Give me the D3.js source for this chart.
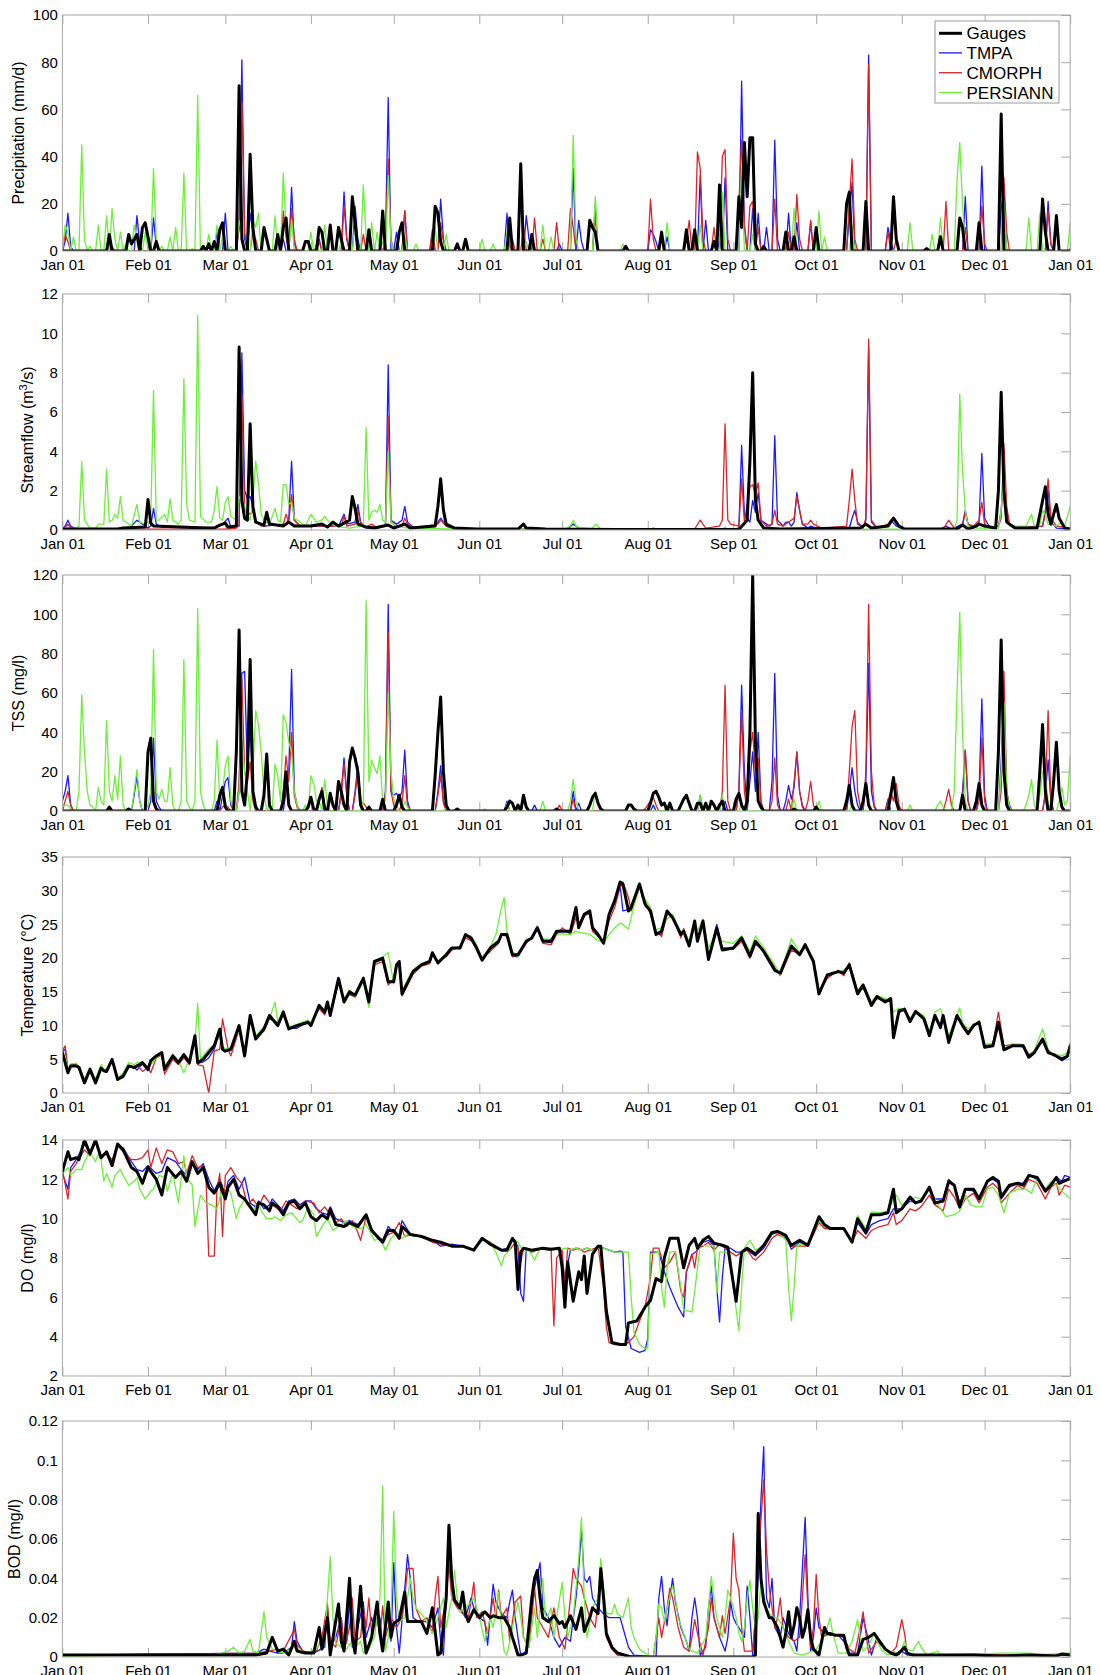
<!DOCTYPE html>
<html><head><meta charset="utf-8">
<script src="https://cdn.jsdelivr.net/npm/d3@7"></script>
<style>
body{margin:0;background:#fff}
svg{display:block}
text{font-family:"Liberation Sans",Arial,Helvetica,sans-serif;fill:#000}
</style>
</head><body>
<svg id="chart" width="1100" height="1675"></svg>
<script>
// ---------- series meta ----------
const seriesNames = ["Gauges", "TMPA", "CMORPH", "PERSIANN"];
const seriesColors = ["#000000", "#1a1aff", "#dc2428", "#6cf03a"];

// ---------- tick labels ----------
const precipTicks = [0, 20, 40, 60, 80, 100];
const flowTicks = [0, 2, 4, 6, 8, 10, 12];
const tssTicks = [0, 20, 40, 60, 80, 100, 120];
const tempTicks = [0, 5, 10, 15, 20, 25, 30, 35];
const doTicks = [2, 4, 6, 8, 10, 12, 14];
const bodTicks = [0, 0.02, 0.04, 0.06, 0.08, 0.1, 0.12];
const bodTickLabels = ["0", "0.02", "0.04", "0.06", "0.08", "0.1", "0.12"];

// ---------- Precipitation (mm/d): rain days [dayOfYear, value]; other days read as 0 ----------
const precipGauges = [[17,7],[24,7],[25,3],[26,5],[27,7],[29,10],[30,12],[31,6],[34,4],[51,2],[53,3],[55,4],[57,9],[58,12],[64,70],[65,5],[68,41],[69,10],[73,10],[74,5],[78,7],[80,10],[81,14],[88,4],[89,4],[93,10],[94,8],[97,11],[100,10],[101,5],[105,23],[106,12],[111,9],[116,17],[122,8],[123,12],[135,19],[136,16],[137,4],[143,3],[146,5],[162,14],[166,37],[170,7],[191,13],[192,10],[193,8],[204,2],[217,8],[226,9],[229,9],[236,4],[238,28],[245,23],[246,10],[247,46],[248,23],[249,48],[250,48],[251,3],[254,2],[262,8],[265,6],[273,10],[284,20],[285,25],[291,21],[301,23],[302,5],[313,1],[318,6],[325,14],[326,10],[332,12],[340,58],[355,22],[356,8],[360,15]];
const precipTMPA = [[1,4],[2,16],[3,2],[27,15],[28,3],[33,14],[34,2],[56,8],[59,16],[64,10],[65,81],[66,5],[68,16],[69,8],[80,5],[83,27],[84,3],[93,5],[97,8],[102,25],[103,5],[106,19],[107,5],[117,5],[118,65],[121,8],[124,17],[134,8],[137,22],[138,5],[161,16],[168,15],[169,5],[180,3],[185,35],[187,13],[188,4],[193,20],[213,9],[214,7],[215,4],[219,6],[231,32],[233,13],[238,4],[240,31],[246,72],[247,10],[250,18],[252,16],[255,10],[258,47],[259,5],[263,16],[266,12],[271,12],[285,15],[286,29],[292,83],[299,10],[300,4],[318,4],[327,23],[333,36],[340,18],[341,25],[357,21],[358,3]];
const precipCMORPH = [[1,7],[2,4],[18,2],[64,10],[65,63],[66,8],[69,8],[70,5],[80,17],[81,6],[83,18],[84,5],[93,4],[102,19],[103,5],[109,7],[117,4],[118,39],[119,5],[124,17],[134,9],[137,12],[138,4],[163,5],[167,10],[171,14],[174,5],[179,12],[184,18],[185,10],[193,15],[213,22],[214,5],[226,4],[227,13],[230,42],[231,35],[232,5],[236,10],[239,40],[240,43],[241,5],[245,20],[246,47],[247,12],[249,19],[250,21],[252,10],[258,22],[263,8],[266,24],[267,5],[271,13],[285,20],[286,39],[287,5],[292,79],[299,8],[302,5],[320,21],[327,10],[333,19],[334,3],[341,31],[342,8],[357,17],[358,3],[365,1]];
const precipPERSIANN = [[1,11],[2,8],[4,6],[7,45],[8,5],[10,2],[13,11],[16,15],[18,18],[19,5],[21,8],[23,3],[26,11],[27,5],[30,8],[33,35],[34,5],[36,2],[39,6],[41,10],[44,33],[47,1],[49,66],[53,7],[56,11],[58,6],[61,2],[64,13],[65,8],[69,13],[70,10],[71,16],[77,15],[80,33],[81,10],[83,13],[90,8],[92,3],[95,11],[101,4],[106,12],[109,28],[110,6],[112,12],[114,8],[116,4],[118,32],[119,4],[124,7],[128,3],[135,10],[139,7],[143,3],[152,5],[156,3],[161,8],[168,4],[174,11],[177,6],[185,49],[186,5],[193,23],[203,3],[219,12],[231,11],[239,25],[246,35],[250,7],[265,18],[274,17],[276,6],[286,11],[307,12],[315,7],[318,14],[324,30],[325,46],[326,20],[341,21],[350,14],[354,16],[365,12]];

// ---------- Streamflow (m3/s): [dayOfYear, value] points ----------
const flowGauges = [[0,0.05],[20,0.05],[22,0.1],[30,0.15],[31,1.55],[32,0.35],[33,0.2],[50,0.12],[55,0.1],[57,0.25],[59,0.35],[60,0.15],[63,0.2],[64,9.3],[65,1.5],[66,0.6],[67,0.5],[68,5.4],[69,1.2],[70,0.4],[73,0.25],[74,0.9],[75,0.3],[80,0.2],[82,0.4],[84,0.2],[90,0.2],[94,0.3],[96,0.15],[98,0.4],[100,0.2],[104,0.5],[105,1.7],[106,1.1],[107,0.3],[110,0.15],[113,0.1],[118,0.25],[120,0.1],[124,0.3],[126,0.1],[135,0.2],[136,1.2],[137,2.6],[138,1.0],[139,0.3],[142,0.1],[150,0.05],[165,0.05],[167,0.3],[168,0.1],[175,0.05],[200,0.02],[245,0.02],[248,0.5],[249,3.5],[250,8.0],[251,1.5],[252,0.5],[254,0.1],[260,0.05],[289,0.1],[291,0.3],[293,0.1],[299,0.2],[301,0.6],[303,0.2],[305,0.05],[324,0.05],[326,0.25],[328,0.05],[331,0.2],[332,0.3],[334,0.2],[338,0.1],[339,2.0],[340,7.0],[341,2.0],[342,0.4],[345,0.1],[353,0.1],[355,1.5],[356,2.2],[357,0.8],[358,0.3],[360,1.3],[361,0.6],[363,0.1],[365,0.05]];
const flowTMPA = [[0,0.05],[1,0.2],[2,0.5],[3,0.2],[5,0.05],[24,0.05],[27,0.5],[29,0.3],[31,0.1],[32,0.2],[33,1.1],[34,0.3],[36,0.15],[55,0.1],[58,0.3],[60,0.6],[61,0.15],[64,0.2],[65,9.0],[66,2.0],[67,1.6],[68,1.7],[69,1.2],[70,0.4],[73,0.2],[81,0.3],[82,0.6],[83,3.5],[84,0.5],[86,0.2],[100,0.2],[102,0.8],[103,0.3],[106,0.4],[107,1.3],[108,0.4],[110,0.1],[117,0.2],[118,8.4],[119,0.5],[121,0.3],[123,0.5],[124,1.2],[125,0.4],[127,0.15],[135,0.2],[137,0.6],[139,0.2],[142,0.05],[183,0.05],[185,0.3],[187,0.1],[200,0.02],[238,0.03],[240,0.1],[242,0.03],[245,0.1],[246,4.3],[247,0.8],[249,0.4],[250,1.5],[251,0.9],[252,1.9],[253,0.5],[256,0.2],[257,0.3],[258,4.8],[259,0.5],[261,0.2],[262,0.4],[263,0.4],[264,0.2],[265,0.4],[266,1.9],[267,1.0],[268,0.3],[270,0.1],[271,0.2],[273,0.1],[285,0.1],[286,0.6],[287,1.0],[288,0.4],[290,0.1],[291,0.5],[292,9.3],[293,0.4],[295,0.1],[299,0.2],[300,0.5],[302,0.2],[305,0.05],[318,0.05],[320,0.2],[322,0.05],[326,0.3],[327,1.0],[328,0.3],[330,0.1],[332,0.4],[333,3.9],[334,0.6],[336,0.1],[339,0.2],[340,1.0],[341,3.0],[342,1.0],[343,0.3],[346,0.1],[355,0.2],[356,1.0],[357,2.0],[358,0.4],[360,0.1],[365,0.05]];
const flowCMORPH = [[0,0.05],[1,0.15],[2,0.3],[3,0.1],[5,0.03],[60,0.05],[63,0.1],[64,0.3],[65,6.8],[66,1.0],[68,0.8],[69,1.0],[70,0.5],[72,0.2],[80,0.3],[81,0.8],[82,0.4],[83,1.8],[84,0.5],[86,0.2],[101,0.2],[102,0.7],[103,0.2],[106,0.3],[107,1.0],[108,0.3],[110,0.15],[112,0.3],[114,0.1],[117,0.2],[118,5.8],[119,0.4],[121,0.2],[123,0.2],[124,0.6],[125,0.3],[127,0.1],[136,0.3],[137,0.5],[139,0.2],[142,0.05],[200,0.02],[213,0.02],[214,0.1],[216,0.02],[229,0.05],[231,0.5],[233,0.1],[238,0.2],[239,0.5],[240,5.4],[241,0.5],[242,0.3],[245,0.2],[246,2.6],[247,0.4],[249,2.2],[250,2.3],[251,1.8],[252,2.4],[253,0.5],[255,0.2],[257,0.3],[258,1.0],[259,0.3],[261,0.2],[265,0.6],[266,1.7],[267,1.0],[268,0.3],[270,0.3],[271,0.5],[272,0.3],[275,0.1],[284,0.2],[285,1.5],[286,3.1],[287,1.5],[288,0.3],[290,0.1],[291,0.6],[292,9.7],[293,0.5],[295,0.1],[299,0.3],[300,0.5],[301,0.5],[303,0.2],[305,0.05],[319,0.05],[321,0.5],[323,0.1],[326,0.2],[327,0.9],[328,0.3],[330,0.2],[332,0.5],[333,1.4],[334,0.3],[336,0.1],[339,0.2],[340,0.6],[341,4.4],[342,1.2],[343,0.3],[346,0.1],[355,0.2],[356,0.8],[357,2.6],[358,0.6],[360,0.2],[365,0.1]];
const flowPERSIANN = [[0,0.1],[5,0.1],[6,0.2],[7,3.5],[8,0.5],[10,0.1],[12,0.1],[13,0.3],[15,0.3],[16,3.1],[17,0.4],[18,0.5],[19,0.8],[20,0.6],[21,1.7],[22,0.5],[25,0.2],[27,1.3],[28,0.4],[30,0.3],[32,0.5],[33,7.1],[34,0.5],[35,0.5],[37,0.8],[38,0.4],[39,1.6],[40,0.5],[42,0.3],[43,0.5],[44,7.7],[45,1.3],[46,0.5],[48,0.4],[49,10.9],[50,0.7],[52,0.4],[54,0.4],[55,1.0],[56,2.2],[57,0.6],[58,0.5],[59,1.4],[60,1.7],[61,0.7],[63,0.5],[64,1.6],[65,1.9],[66,1.1],[68,0.5],[69,1.5],[70,3.5],[71,2.4],[72,0.8],[73,0.5],[75,0.3],[77,1.1],[78,0.5],[79,0.4],[80,2.3],[81,2.3],[82,1.3],[83,1.4],[84,0.6],[86,0.4],[88,0.2],[90,0.8],[91,0.6],[92,0.4],[94,0.5],[95,0.7],[96,0.5],[99,0.2],[104,0.1],[108,0.2],[109,0.3],[110,5.2],[111,0.5],[112,0.9],[113,1.0],[114,0.9],[115,1.3],[116,0.5],[117,0.4],[118,4.0],[119,0.4],[121,0.2],[125,0.1],[140,0.05],[182,0.05],[184,0.2],[185,0.5],[186,0.2],[188,0.05],[192,0.1],[193,0.3],[195,0.05],[240,0.02],[250,0.02],[323,0.05],[324,0.5],[325,6.9],[326,3.0],[327,1.0],[328,0.2],[331,0.1],[339,0.1],[340,1.0],[341,3.0],[342,0.6],[343,0.2],[349,0.2],[351,0.8],[352,0.2],[354,0.3],[355,1.0],[356,0.8],[357,0.3],[360,0.2],[362,0.4],[363,0.2],[365,1.2]];

// ---------- TSS (mg/l): days with load [dayOfYear, value]; other days read as 0 ----------
const tssGauges = [[17,2],[24,1],[31,30],[32,37],[33,5],[34,1],[57,8],[58,12],[59,2],[63,30],[64,92],[65,10],[66,3],[67,20],[68,77],[69,10],[70,2],[73,8],[74,29],[75,3],[80,5],[81,20],[82,3],[89,2],[90,7],[91,1],[93,6],[94,10],[95,1],[97,9],[98,3],[100,15],[101,10],[102,3],[104,25],[105,32],[106,27],[107,20],[108,3],[111,2],[116,6],[121,3],[122,8],[123,2],[135,18],[136,40],[137,58],[138,20],[139,3],[143,1],[161,2],[162,5],[163,4],[165,3],[167,8],[168,2],[179,1],[191,3],[192,7],[193,9],[194,4],[195,1],[205,3],[206,3],[207,1],[213,4],[214,9],[215,10],[216,7],[217,3],[218,4],[220,4],[224,3],[225,6],[226,8],[227,4],[230,4],[231,4],[233,4],[235,5],[236,3],[238,3],[239,5],[244,6],[245,9],[246,3],[248,5],[249,40],[250,120],[251,35],[252,5],[253,2],[265,1],[273,2],[284,5],[285,13],[286,3],[290,5],[291,14],[292,3],[300,8],[301,17],[302,5],[326,8],[331,5],[332,14],[333,3],[339,30],[340,87],[341,20],[342,3],[354,20],[355,44],[356,10],[359,15],[360,35],[361,10],[362,2]];
const tssTMPA = [[0,5],[1,10],[2,18],[3,3],[26,8],[27,18],[28,5],[32,5],[33,37],[34,5],[35,2],[56,5],[58,8],[59,15],[60,17],[61,3],[64,10],[65,70],[66,71],[67,20],[68,43],[69,10],[70,3],[81,10],[82,20],[83,72],[84,10],[85,3],[101,10],[102,27],[103,8],[106,10],[107,23],[108,5],[117,10],[118,105],[119,10],[120,8],[121,9],[122,6],[123,10],[124,31],[125,5],[136,10],[137,23],[138,5],[161,5],[171,3],[185,10],[187,4],[214,3],[231,8],[240,5],[245,10],[246,64],[247,20],[249,15],[250,30],[251,10],[252,40],[253,5],[257,15],[258,70],[259,8],[262,5],[263,13],[264,6],[265,12],[266,30],[267,10],[268,3],[285,10],[286,22],[287,10],[288,3],[291,15],[292,75],[293,10],[294,2],[299,6],[326,10],[327,31],[328,5],[332,10],[333,57],[334,8],[340,25],[341,55],[342,10],[343,3],[356,8],[357,26],[358,5]];
const tssCMORPH = [[1,5],[2,10],[3,3],[58,2],[59,3],[60,2],[64,15],[65,67],[66,20],[67,15],[68,25],[69,5],[80,10],[81,28],[82,15],[83,40],[84,8],[85,2],[93,5],[94,12],[95,3],[101,8],[102,24],[103,8],[106,8],[107,20],[108,4],[109,4],[110,2],[117,8],[118,91],[119,10],[120,3],[123,4],[124,18],[125,3],[136,8],[137,18],[138,4],[180,3],[185,6],[211,1],[212,3],[213,5],[214,7],[215,3],[239,10],[240,64],[241,5],[245,10],[246,50],[247,10],[249,30],[250,40],[251,20],[252,27],[253,4],[257,5],[258,27],[259,3],[263,6],[265,15],[266,30],[267,10],[268,2],[270,5],[271,15],[272,3],[285,20],[286,43],[287,51],[288,10],[289,2],[291,20],[292,105],[293,20],[294,3],[299,5],[300,10],[301,5],[302,14],[303,3],[320,5],[321,11],[322,3],[326,5],[327,31],[328,5],[332,5],[333,37],[334,5],[340,10],[341,71],[342,10],[343,2],[356,10],[357,51],[358,5]];
const tssPERSIANN = [[0,2],[1,3],[2,3],[3,1],[6,10],[7,59],[8,30],[9,10],[10,3],[11,2],[13,12],[14,5],[15,3],[16,46],[17,10],[18,5],[19,18],[20,6],[21,28],[22,3],[26,10],[27,21],[28,5],[31,3],[32,10],[33,82],[34,10],[35,6],[36,11],[37,5],[38,5],[39,22],[40,3],[43,5],[44,77],[45,5],[46,2],[48,5],[49,103],[50,10],[51,3],[55,5],[56,36],[57,5],[58,10],[59,23],[60,28],[61,5],[64,10],[65,36],[66,20],[67,10],[69,20],[70,51],[71,44],[72,30],[73,10],[75,3],[77,24],[78,18],[79,5],[80,49],[81,45],[82,35],[83,30],[84,10],[85,3],[88,3],[90,18],[91,14],[92,5],[93,5],[95,16],[96,3],[109,5],[110,107],[111,15],[112,26],[113,22],[114,19],[115,28],[116,5],[117,5],[118,60],[119,20],[120,6],[121,3],[124,5],[125,2],[139,2],[153,1],[161,4],[174,5],[184,5],[185,16],[186,5],[193,10],[194,3],[219,3],[231,8],[239,8],[246,4],[265,6],[274,5],[286,3],[307,3],[317,3],[318,5],[319,2],[323,10],[324,60],[325,101],[326,40],[327,5],[340,20],[341,55],[342,10],[343,2],[349,3],[350,8],[351,16],[352,3],[354,8],[355,20],[356,18],[357,5],[361,5],[362,12],[363,3],[364,5],[365,28]];

// ---------- Temperature (°C): [dayOfYear, value] ----------
const tempGauges = [[0,6],[2,3],[3,4],[5,4],[6,3.8],[8,1.5],[10,3.5],[12,1.5],[14,3.7],[15,3.3],[16,3.2],[18,5],[20,2],[22,2.5],[24,4],[26,3.8],[27,4],[29,4.5],[31,3.5],[32,4.8],[34,5.5],[36,6],[37,3.5],[40,5.5],[42,4.5],[44,5.7],[46,4.5],[48,8.5],[49,4.5],[51,5],[53,6],[55,7],[57,9.5],[58,6.5],[59,6.2],[61,6.5],[64,10],[66,5.5],[68,11.5],[70,8],[73,9.5],[75,11.5],[78,10],[80,12],[82,9.5],[85,10],[89,10.5],[90,10],[93,13],[95,12],[96,13.5],[97,11.5],[100,17],[102,13.5],[104,15],[106,14.5],[109,17],[111,13.5],[113,19.5],[116,20],[118,16.5],[120,16.5],[121,19],[122,19.5],[123,14.7],[127,18],[130,19],[133,19.5],[134,20.8],[136,19.3],[139,20.5],[141,21.5],[144,21.5],[146,23.5],[148,23],[150,21.5],[152,19.7],[155,21.5],[158,22.5],[159,23.5],[161,23.5],[163,20.5],[165,20.5],[168,22.5],[170,23],[172,24.5],[174,22.5],[177,22.5],[179,24],[181,24],[184,24],[186,27.5],[187,24.5],[189,26.5],[191,27],[192,24.5],[194,23.5],[196,22.2],[198,26.5],[200,28.5],[202,31.3],[203,31],[205,27],[206,27.5],[209,31],[211,28],[213,27],[215,23.5],[217,24],[219,27],[221,26],[224,23.5],[225,24],[227,21.8],[229,25.5],[230,22.5],[232,25.5],[234,19.8],[237,24.5],[239,21.2],[243,21.5],[246,23],[249,20.3],[251,22.5],[254,21],[258,18.2],[260,17.8],[264,21.8],[267,20.5],[269,22],[272,19.5],[274,14.7],[277,17.5],[281,18],[283,17.8],[285,19],[288,14.7],[290,16],[293,13],[295,14.3],[298,13.5],[300,14],[301,8.2],[303,12.2],[305,12.4],[307,10.6],[309,12.1],[312,11],[314,8.5],[316,11.5],[318,9.7],[319,11.5],[321,7.5],[324,11.5],[326,10],[328,8.8],[330,10],[332,10.5],[334,6.8],[337,7],[339,10.5],[341,6.4],[344,7],[348,7],[350,5.3],[352,6],[355,8],[357,6],[359,5.7],[362,5],[364,5.5],[365,7]];
const tempTMPA = [[0,6.2],[1,6.5],[2,3.2],[3,4],[5,4.2],[6,3.8],[8,1.6],[10,3.5],[12,1.6],[14,3.7],[15,3.3],[16,3.1],[18,5],[20,2],[22,2.3],[24,3.8],[26,3.8],[27,3.4],[29,4.3],[31,3.3],[32,4.6],[34,5.5],[36,5.9],[37,3.6],[40,5.3],[42,4.4],[44,5.4],[46,4.4],[48,8.2],[49,4.4],[51,4.6],[53,5.2],[55,6.5],[57,9],[58,6.4],[59,6.2],[61,6.3],[64,9.6],[66,5.6],[68,11],[70,8.2],[73,9.4],[75,11.2],[78,10.2],[80,11.8],[82,9.6],[85,9.6],[89,10.6],[90,10],[93,12.8],[95,11.8],[96,13.4],[97,11.6],[100,16.8],[102,13.6],[104,14.8],[106,14.4],[109,16.8],[111,13.6],[113,19.3],[116,19.8],[118,16.3],[120,16.8],[121,19.1],[122,19.3],[123,14.5],[127,17.9],[130,19],[133,19.4],[134,20.7],[136,19.4],[139,20.4],[141,21.4],[144,21.6],[146,23.3],[148,22.9],[150,21.6],[152,19.9],[155,21.3],[158,22.5],[159,23.6],[161,23.4],[163,20.3],[165,20.2],[168,22.3],[170,23.1],[172,24.3],[174,22.6],[177,22.3],[179,23.8],[181,24.2],[184,23.8],[186,27],[187,24.6],[189,26.2],[191,26.8],[192,24.3],[194,23.5],[196,22.3],[198,26.2],[200,28.3],[202,30.8],[203,27],[205,27.2],[206,27.8],[209,30.8],[211,28.2],[213,26.8],[215,23.8],[217,23.5],[219,26.8],[221,26.2],[224,23.3],[225,24.2],[227,22],[229,25.2],[230,22.8],[232,25.3],[234,20],[237,25],[239,21.4],[243,21.6],[246,22.8],[249,20.5],[251,22.3],[254,21.2],[258,18.4],[260,17.6],[264,21.5],[267,20.8],[269,21.8],[272,19.6],[274,14.9],[277,17.3],[281,18.1],[283,17.6],[285,19.1],[288,14.8],[290,15.8],[293,13.2],[295,14.1],[298,13.7],[300,13.8],[301,8.8],[303,12],[305,12.5],[307,10.8],[309,12],[312,11.2],[314,8.7],[316,11.3],[318,9.9],[319,11.3],[321,7.8],[324,11.3],[326,10.2],[328,8.9],[330,10.1],[332,10.4],[334,7],[337,7.1],[339,10.2],[341,6.6],[344,7.1],[348,6.9],[350,5.5],[352,6.1],[355,7.8],[357,6.2],[359,5.6],[362,4.8],[364,5.3],[365,6.7]];
const tempCMORPH = [[0,6.3],[1,7],[2,3.5],[3,4.2],[5,4.3],[6,3.6],[8,1.8],[10,3.6],[12,1.8],[14,3.5],[15,3.2],[16,3.3],[18,4.8],[20,2.1],[22,2.6],[24,4.1],[26,3.6],[27,4.2],[29,3.2],[31,3.8],[32,3],[34,5.2],[36,5.6],[37,2.8],[40,5],[42,4.2],[44,5.2],[46,4.2],[48,8],[49,4.2],[51,4],[53,0],[55,6.2],[57,6.5],[58,11],[60,6.5],[61,5.5],[64,9.4],[66,6],[68,10.8],[70,8.3],[73,9.2],[75,11],[78,10.4],[80,11.5],[82,9.8],[85,9.8],[89,10.4],[90,10.2],[93,12.5],[95,11.6],[96,13],[97,11.4],[100,16.5],[102,13.8],[104,14.6],[106,14.2],[109,17.2],[111,13.8],[113,19],[116,19.5],[118,16],[120,17],[121,19],[122,19],[123,14.4],[127,17.6],[130,18.8],[133,19.2],[134,20.5],[136,19.5],[139,20.2],[141,21.2],[144,21.7],[146,23],[148,22.6],[150,21.8],[152,20],[155,21],[158,22.2],[159,23.6],[161,23.2],[163,20.2],[165,20.6],[168,22.2],[170,23.2],[172,24.6],[174,22.2],[177,22],[179,23.5],[181,24.5],[184,23.5],[186,26],[187,25],[189,26.6],[191,26.5],[192,24],[194,23.2],[196,22.5],[198,25.5],[200,27.5],[202,30.5],[203,31.3],[205,29],[206,27],[209,30.5],[211,28.5],[213,26.5],[215,24],[217,23.2],[219,26.5],[221,26.4],[224,23],[225,24.4],[227,22.2],[229,25],[230,23],[232,25],[234,20.3],[237,24.2],[239,21.6],[243,21.3],[246,22.5],[249,20],[251,22],[254,21.4],[258,18.6],[260,17.4],[264,21.2],[267,20.6],[269,21.6],[272,19.8],[274,15],[277,17],[281,18.2],[283,17.4],[285,19.3],[288,15],[290,15.5],[293,13.4],[295,14],[298,13.9],[300,13.5],[301,9.2],[303,11.8],[305,12.6],[307,11],[309,11.8],[312,11.4],[314,9],[316,11],[318,10.1],[319,11],[321,8.2],[324,11],[326,10.4],[328,9],[330,10.2],[332,10.2],[334,7.2],[337,7.2],[339,12],[341,7],[344,7.2],[348,6.8],[350,5.7],[352,6.2],[355,7.6],[357,6.4],[359,5.5],[362,5.2],[364,5.5],[365,7.2]];
const tempPERSIANN = [[0,5.8],[1,5.5],[2,3.5],[3,4.3],[5,4.4],[6,4],[8,2],[10,3.8],[12,2],[14,4.2],[15,3.5],[16,3.5],[18,4.8],[20,2.2],[22,3],[24,4.5],[26,4.2],[27,4.5],[29,4.6],[31,3.9],[32,4.2],[34,5.2],[36,5.8],[37,4],[40,5.8],[42,4.8],[44,3],[46,5],[48,7.5],[49,13.3],[50,5],[51,5.5],[53,6.5],[55,7.2],[57,8.2],[58,7],[59,6.5],[61,6.8],[64,9.2],[66,6.5],[68,10.5],[70,8.5],[73,9.8],[75,11],[77,13.5],[78,10.5],[80,12.3],[82,9.8],[85,10.2],[89,10.8],[90,10.3],[93,12.6],[95,12.3],[96,13.2],[97,12],[100,16.5],[102,14],[104,15.3],[106,14.2],[109,16.5],[111,12.7],[113,19],[116,20.2],[118,20.8],[120,16.2],[121,18.5],[122,19.5],[123,15.2],[127,18.3],[130,19.2],[133,19.6],[134,20.6],[136,19.5],[139,20.7],[141,21.3],[144,21.8],[146,23.3],[148,23.3],[150,22],[152,20],[155,21.7],[157,23.5],[159,27.5],[160,29],[161,24],[163,21],[165,20.2],[168,22.8],[170,22.8],[172,24.8],[174,22.8],[177,22.8],[179,23.5],[181,23.6],[184,23.5],[186,24],[187,23.8],[189,23.7],[191,23.5],[192,23.2],[194,22.6],[196,22.3],[198,23.5],[200,24.5],[202,25.2],[203,25],[205,24.3],[206,26],[207,27.8],[209,30.5],[211,28.8],[213,27.5],[215,24.2],[217,24.5],[219,25.8],[221,26.5],[224,23.8],[225,24.2],[227,22.5],[229,25.5],[230,24],[232,25.8],[234,21.5],[237,24],[239,22.5],[243,22.2],[246,23.3],[249,21],[251,23.3],[254,21.5],[258,19],[260,17.5],[264,22.9],[267,20.8],[269,21.8],[272,19.2],[274,15],[277,17.5],[281,18],[283,18.2],[285,19],[288,15.2],[290,16.2],[293,13.5],[295,14.5],[298,14],[300,13.8],[301,12],[303,12.6],[305,12.3],[307,11],[309,12.2],[312,11.5],[314,9],[316,12],[318,12.5],[319,11.2],[321,8.5],[324,11.5],[325,12.6],[326,10.4],[328,9.5],[330,10],[332,10.7],[334,7.2],[337,7.3],[339,10],[341,6.6],[344,7.3],[348,7.2],[350,5.5],[352,6.3],[355,9.5],[357,6.5],[359,5.8],[362,5.5],[364,6],[365,7.5]];

// ---------- DO (mg/l): [dayOfYear, value] ----------
const doGauges = [[0,12.4],[2,13.4],[3,13.0],[5,13.1],[6,13.0],[8,14.0],[10,13.3],[12,14.0],[14,13.1],[16,13.4],[18,12.7],[20,13.8],[22,13.5],[25,12.6],[27,12.4],[29,11.8],[31,12.6],[34,12.0],[36,11.2],[38,12.6],[41,12.1],[43,12.4],[45,11.9],[47,12.9],[49,12.3],[51,12.6],[53,11.6],[55,11.3],[57,11.8],[59,11.0],[60,11.6],[62,12.0],[64,11.2],[66,11.0],[68,10.6],[70,10.2],[71,10.8],[73,10.7],[75,10.4],[76,10.8],[78,10.6],[80,10.2],[82,10.8],[84,10.9],[86,10.5],[88,10.8],[90,10.1],[92,9.9],[94,10.2],[96,10.0],[97,10.5],[99,9.7],[102,9.6],[104,9.8],[107,9.6],[110,10.2],[112,9.4],[114,9.1],[116,8.8],[118,9.4],[120,9.4],[122,9.0],[123,9.6],[126,9.2],[130,9.1],[134,8.9],[137,8.8],[141,8.6],[145,8.6],[149,8.4],[152,9.0],[155,8.7],[159,8.4],[161,8.4],[163,9.0],[164,8.8],[165,6.4],[166,8.3],[167,8.5],[170,8.4],[174,8.5],[177,8.45],[180,8.5],[181,7.5],[182,5.5],[183,7.8],[185,5.8],[187,7.3],[188,6.9],[189,8.1],[190,6.2],[192,8.2],[194,8.6],[195,8.6],[197,5.3],[199,3.7],[202,3.6],[204,3.6],[205,4.7],[208,4.8],[211,5.5],[213,5.85],[215,6.95],[217,6.8],[218,8.0],[220,9.0],[223,9.0],[225,7.5],[227,8.65],[229,9.0],[230,8.5],[232,8.9],[234,9.1],[236,8.75],[239,8.65],[241,8.55],[242,7.6],[244,5.8],[246,8.3],[248,8.5],[251,8.2],[254,8.65],[257,9.3],[259,9.35],[262,9.15],[264,8.65],[267,8.9],[270,8.65],[274,10.1],[276,9.7],[278,9.5],[283,9.5],[286,8.8],[288,10.0],[291,9.3],[293,10.2],[296,10.2],[299,10.3],[301,11.5],[302,10.3],[304,10.5],[307,11.1],[309,10.8],[311,10.9],[314,11.6],[316,10.8],[319,10.9],[321,11.9],[323,11.7],[325,10.6],[327,11.5],[330,11.5],[332,11.0],[335,11.9],[337,12.1],[339,11.9],[340,11.1],[343,11.7],[346,11.8],[348,11.7],[350,12.2],[353,12.1],[356,11.4],[358,11.7],[360,12.1],[361,11.8],[365,12.05]];
const doTMPA = [[0,12.3],[2,11.5],[3,12.6],[5,13.0],[8,13.8],[10,13.3],[12,13.9],[14,13.2],[16,13.3],[18,12.8],[20,13.7],[22,13.6],[25,12.9],[27,12.5],[29,12.4],[31,12.7],[34,12.3],[36,12.4],[38,13.1],[41,12.9],[43,12.5],[45,12.2],[47,12.9],[49,12.5],[51,12.8],[53,12.0],[55,11.4],[57,12.0],[59,11.3],[60,11.9],[62,12.2],[64,11.5],[66,12.1],[68,10.8],[70,10.6],[71,10.9],[73,10.5],[75,10.7],[76,11.0],[78,10.7],[80,10.4],[82,10.9],[84,11.0],[86,10.7],[88,10.9],[90,10.9],[92,10.5],[94,10.3],[96,10.2],[97,10.6],[99,10.0],[102,9.8],[104,9.9],[107,9.7],[110,10.2],[112,9.5],[114,9.1],[116,8.9],[118,9.6],[120,9.3],[122,9.2],[123,9.9],[126,9.2],[130,9.1],[134,8.9],[137,8.6],[141,8.7],[145,8.6],[149,8.4],[152,9.0],[155,8.7],[159,8.4],[161,8.5],[163,9.0],[164,8.8],[165,8.6],[166,6.2],[167,5.8],[168,8.5],[170,8.4],[174,8.5],[177,8.45],[180,8.5],[182,7.0],[184,8.4],[186,8.5],[188,8.4],[190,8.5],[192,8.4],[194,8.5],[196,8.5],[198,8.4],[200,8.3],[202,8.35],[203,8.3],[204,4.5],[206,3.4],[209,3.2],[211,3.3],[212,3.9],[213,8.3],[216,8.3],[218,7.3],[220,6.5],[223,5.5],[225,5.0],[226,7.3],[228,8.15],[230,8.4],[232,8.8],[234,8.9],[236,8.6],[237,6.5],[238,4.75],[239,7.0],[240,8.5],[242,8.5],[244,8.3],[246,8.3],[248,8.4],[251,8.1],[254,8.5],[257,9.2],[259,9.3],[262,9.1],[264,8.45],[267,8.8],[270,8.6],[274,9.9],[276,9.6],[278,9.5],[283,9.5],[286,8.9],[288,9.8],[291,9.2],[293,9.7],[296,9.9],[299,10.0],[301,10.5],[302,10.5],[304,10.5],[307,10.9],[309,10.8],[311,10.9],[314,11.6],[316,11.0],[319,11.0],[321,12.0],[323,11.7],[325,10.8],[327,11.5],[330,11.4],[332,11.1],[335,11.9],[337,12.0],[339,11.8],[340,11.0],[343,11.6],[346,11.8],[348,11.8],[350,12.2],[353,12.0],[356,11.5],[358,11.8],[360,12.1],[362,11.9],[363,12.2],[365,12.1]];
const doCMORPH = [[0,12.5],[2,11.0],[3,12.4],[5,12.8],[8,13.5],[10,13.2],[12,13.9],[14,13.1],[16,13.3],[18,13.0],[20,13.7],[22,13.4],[25,13.0],[27,13.0],[29,13.1],[31,13.5],[32,12.6],[34,13.6],[36,12.8],[38,13.5],[40,13.4],[42,12.8],[44,12.9],[45,12.3],[47,13.2],[49,12.6],[51,12.7],[52,12.0],[53,8.1],[55,8.1],[56,11.5],[57,12.3],[58,9.1],[59,12.2],[61,12.6],[63,12.1],[65,11.8],[67,10.7],[69,11.0],[71,10.6],[73,11.2],[75,10.8],[77,10.6],[79,10.4],[81,10.9],[83,10.7],[85,10.5],[88,10.9],[91,10.8],[93,10.3],[95,10.6],[97,10.2],[99,9.8],[101,10.0],[103,9.6],[105,9.9],[107,9.3],[108,8.9],[110,10.1],[112,9.4],[114,9.1],[116,8.9],[118,9.2],[120,9.3],[122,9.8],[124,9.1],[127,9.2],[131,9.0],[134,8.8],[137,8.7],[141,8.6],[145,8.6],[149,8.4],[152,9.0],[155,8.8],[159,8.4],[162,8.4],[164,8.8],[165,8.5],[166,7.8],[167,8.5],[170,8.3],[174,8.5],[176,8.4],[177,8.4],[178,4.55],[179,8.0],[181,8.4],[182,6.6],[183,8.5],[185,8.4],[187,8.5],[189,8.3],[191,8.4],[193,8.5],[194,8.6],[196,6.5],[197,4.5],[198,3.7],[200,3.6],[203,3.6],[205,3.7],[207,4.0],[209,4.8],[211,5.5],[213,7.0],[214,8.5],[216,8.5],[218,7.5],[220,7.8],[222,8.3],[224,6.3],[225,6.0],[226,7.3],[228,8.2],[229,7.5],[230,8.5],[232,8.6],[234,8.8],[236,8.4],[238,8.7],[240,8.5],[242,8.3],[244,8.1],[246,8.3],[248,8.4],[250,8.0],[251,7.9],[254,8.3],[257,9.0],[259,9.2],[262,9.0],[264,8.6],[267,8.6],[270,8.6],[274,9.8],[276,9.5],[278,9.5],[283,9.5],[286,8.8],[288,9.4],[291,9.0],[293,9.4],[296,9.6],[299,9.7],[301,10.3],[302,9.7],[304,9.9],[307,10.5],[309,10.4],[311,10.6],[314,11.2],[316,10.7],[319,10.4],[321,11.5],[323,11.1],[325,10.5],[327,11.0],[330,11.3],[332,10.8],[335,11.6],[337,11.8],[339,11.5],[340,10.8],[343,11.3],[346,11.7],[348,11.5],[350,12.0],[353,11.8],[356,11.0],[358,11.6],[360,11.8],[361,11.2],[363,11.7],[365,11.6]];
const doPERSIANN = [[0,12.3],[2,12.6],[3,12.2],[5,12.5],[7,12.5],[8,12.9],[10,13.4],[12,12.9],[13,13.3],[14,13.0],[15,11.9],[16,12.3],[18,11.6],[19,12.2],[21,12.5],[22,12.2],[24,11.7],[26,11.9],[27,12.1],[28,11.5],[30,11.0],[32,11.4],[33,11.5],[35,12.2],[37,12.1],[38,11.4],[40,12.3],[42,10.8],[44,13.2],[45,12.1],[47,11.7],[48,9.6],[50,11.2],[52,10.8],[54,10.7],[56,10.5],[58,11.6],[60,11.5],[61,11.3],[63,10.0],[64,10.5],[66,11.0],[68,10.7],[69,10.4],[71,10.8],[72,10.4],[74,10.0],[76,10.0],[77,10.1],[79,9.9],[81,10.2],[83,10.3],[86,9.8],[87,9.9],[89,10.6],[91,10.2],[92,9.1],[94,9.6],[96,10.0],[98,9.4],[100,9.6],[103,9.9],[105,9.6],[108,9.5],[110,9.7],[113,8.9],[115,9.0],[117,8.4],[119,9.0],[121,9.3],[123,9.0],[125,9.2],[128,9.1],[131,9.1],[134,8.9],[137,8.8],[141,8.6],[145,8.6],[149,8.4],[152,8.9],[155,8.8],[157,8.3],[159,7.6],[160,8.1],[162,8.4],[163,9.0],[165,8.8],[167,8.3],[169,8.4],[171,7.9],[173,8.5],[175,8.4],[177,8.5],[180,8.4],[182,8.5],[184,8.4],[186,8.5],[188,8.4],[190,8.5],[192,8.4],[194,8.5],[196,8.5],[198,8.4],[200,8.3],[203,8.3],[205,8.3],[206,6.0],[207,4.25],[209,3.6],[211,3.4],[212,3.4],[213,8.2],[216,8.3],[217,6.5],[218,5.5],[219,7.5],[220,8.3],[222,8.35],[224,6.5],[225,5.35],[227,5.3],[228,5.25],[229,6.3],[231,8.65],[234,8.6],[236,8.65],[237,6.2],[238,8.3],[240,8.3],[242,8.15],[243,6.5],[245,4.3],[246,6.5],[247,8.5],[249,8.9],[251,8.4],[254,8.6],[257,9.2],[259,9.35],[262,8.9],[263,6.5],[264,4.8],[265,6.5],[266,8.65],[270,8.75],[274,9.9],[276,9.6],[278,9.5],[283,9.5],[286,8.9],[288,10.15],[291,9.5],[293,10.35],[296,10.3],[299,10.4],[302,11.2],[304,10.7],[306,10.9],[309,11.1],[311,11.0],[314,11.5],[316,11.0],[318,10.5],[320,10.1],[323,10.2],[325,10.4],[327,11.2],[329,10.7],[331,10.6],[333,10.6],[335,11.5],[337,11.6],[339,11.2],[341,10.3],[343,11.3],[346,11.5],[349,11.5],[351,11.3],[353,12.05],[356,11.5],[358,11.9],[360,11.7],[362,11.4],[365,11.0]];

// ---------- BOD (mg/l): [dayOfYear, value] ----------
const bodGauges = [[0,0.001],[60,0.001],[70,0.001],[74,0.002],[76,0.010],[78,0.003],[80,0.004],[82,0.001],[84,0.008],[85,0.003],[88,0.002],[91,0.002],[93,0.015],[94,0.004],[96,0.020],[97,0.001],[100,0.027],[101,0.008],[102,0.003],[104,0.040],[105,0.010],[106,0.002],[108,0.036],[109,0.015],[110,0.002],[112,0.010],[114,0.028],[115,0.012],[116,0.003],[118,0.028],[119,0.010],[120,0.017],[122,0.019],[124,0.033],[125,0.018],[127,0.018],[130,0.018],[132,0.012],[134,0.025],[136,0.001],[137,0.002],[139,0.030],[140,0.067],[141,0.040],[142,0.029],[144,0.025],[145,0.033],[146,0.022],[147,0.018],[149,0.024],[151,0.020],[153,0.023],[155,0.020],[156,0.021],[158,0.020],[160,0.020],[162,0.015],[163,0.010],[165,0.001],[166,0.001],[168,0.002],[170,0.030],[171,0.040],[172,0.044],[173,0.030],[174,0.020],[176,0.018],[178,0.021],[180,0.017],[181,0.018],[182,0.015],[184,0.021],[186,0.014],[188,0.025],[189,0.013],[191,0.020],[192,0.025],[194,0.022],[195,0.045],[196,0.030],[197,0.012],[199,0.005],[201,0.002],[206,0.000],[230,0.000],[250,0.000],[251,0.001],[252,0.073],[253,0.040],[254,0.028],[256,0.020],[257,0.020],[259,0.015],[261,0.005],[262,0.012],[263,0.023],[264,0.010],[265,0.016],[266,0.025],[267,0.020],[268,0.010],[269,0.015],[270,0.024],[271,0.010],[272,0.004],[274,0.001],[275,0.008],[276,0.015],[277,0.012],[278,0.012],[280,0.011],[283,0.011],[284,0.005],[285,0.001],[288,0.001],[290,0.009],[292,0.010],[294,0.012],[296,0.008],[298,0.004],[300,0.002],[302,0.001],[303,0.002],[305,0.005],[306,0.002],[308,0.001],[330,0.001],[340,0.0005],[350,0.001],[360,0.0005],[362,0.0015],[365,0.001]];
const bodTMPA = [[0,0.001],[70,0.002],[73,0.004],[75,0.003],[78,0.002],[80,0.002],[83,0.005],[84,0.018],[85,0.008],[87,0.003],[91,0.002],[95,0.005],[96,0.025],[97,0.005],[99,0.010],[101,0.020],[102,0.005],[103,0.008],[104,0.030],[105,0.005],[107,0.015],[109,0.028],[110,0.010],[112,0.020],[113,0.015],[115,0.020],[116,0.005],[118,0.022],[119,0.008],[120,0.048],[121,0.015],[122,0.002],[124,0.035],[125,0.052],[126,0.040],[127,0.020],[129,0.018],[132,0.018],[134,0.015],[136,0.025],[137,0.008],[138,0.001],[140,0.060],[141,0.035],[142,0.028],[144,0.025],[146,0.020],[148,0.030],[149,0.025],[151,0.020],[153,0.018],[154,0.006],[155,0.022],[156,0.037],[157,0.028],[159,0.022],[161,0.020],[162,0.028],[163,0.034],[164,0.020],[165,0.010],[166,0.001],[168,0.003],[170,0.025],[171,0.035],[173,0.048],[174,0.025],[176,0.020],[178,0.010],[180,0.005],[182,0.010],[184,0.008],[186,0.030],[187,0.045],[188,0.065],[189,0.040],[190,0.038],[191,0.041],[192,0.030],[194,0.025],[196,0.022],[198,0.020],[200,0.020],[202,0.020],[203,0.015],[205,0.005],[207,0.001],[215,0.000],[216,0.030],[217,0.041],[218,0.025],[219,0.016],[220,0.030],[221,0.040],[222,0.028],[224,0.015],[226,0.008],[227,0.003],[228,0.020],[229,0.030],[230,0.020],[231,0.001],[233,0.005],[234,0.025],[235,0.036],[236,0.020],[238,0.010],[240,0.003],[241,0.010],[242,0.028],[243,0.020],[244,0.017],[245,0.015],[247,0.010],[248,0.036],[249,0.020],[250,0.001],[252,0.040],[253,0.080],[254,0.107],[255,0.030],[256,0.025],[257,0.040],[258,0.015],[260,0.010],[261,0.020],[263,0.012],[265,0.008],[266,0.003],[267,0.020],[268,0.045],[269,0.071],[270,0.030],[271,0.003],[272,0.010],[273,0.025],[274,0.015],[276,0.012],[278,0.011],[281,0.011],[283,0.008],[285,0.002],[288,0.002],[290,0.020],[292,0.008],[293,0.001],[295,0.010],[297,0.006],[299,0.003],[302,0.002],[304,0.003],[306,0.001],[330,0.001],[345,0.001],[365,0.001]];
const bodCMORPH = [[0,0.001],[70,0.002],[75,0.003],[78,0.004],[80,0.003],[84,0.014],[85,0.006],[88,0.002],[92,0.003],[94,0.010],[96,0.027],[97,0.008],[99,0.005],[101,0.020],[102,0.003],[104,0.015],[105,0.030],[106,0.008],[108,0.010],[109,0.025],[110,0.015],[111,0.030],[112,0.012],[114,0.020],[115,0.010],[116,0.026],[117,0.010],[119,0.020],[121,0.015],[123,0.020],[124,0.030],[125,0.045],[127,0.045],[128,0.025],[130,0.018],[132,0.020],[134,0.012],[135,0.030],[136,0.041],[137,0.015],[139,0.030],[140,0.047],[141,0.030],[143,0.025],[145,0.022],[147,0.020],[148,0.028],[149,0.038],[150,0.020],[152,0.023],[154,0.012],[156,0.030],[157,0.020],[158,0.034],[159,0.020],[161,0.025],[162,0.008],[164,0.028],[166,0.031],[167,0.010],[169,0.005],[171,0.035],[172,0.020],[174,0.015],[176,0.010],[178,0.025],[180,0.010],[182,0.004],[184,0.030],[185,0.045],[186,0.040],[188,0.036],[189,0.030],[191,0.020],[193,0.015],[195,0.043],[196,0.030],[197,0.010],[199,0.004],[201,0.001],[214,0.000],[215,0.010],[216,0.020],[217,0.010],[219,0.025],[220,0.035],[221,0.030],[223,0.015],[225,0.005],[227,0.003],[228,0.010],[229,0.019],[230,0.012],[232,0.001],[234,0.015],[235,0.030],[236,0.020],[238,0.010],[239,0.021],[240,0.012],[242,0.030],[243,0.063],[244,0.040],[245,0.034],[246,0.015],[247,0.003],[250,0.003],[251,0.020],[252,0.050],[254,0.090],[255,0.055],[256,0.035],[258,0.015],[259,0.020],[260,0.030],[261,0.015],[263,0.010],[265,0.008],[267,0.010],[268,0.030],[269,0.052],[270,0.025],[271,0.005],[272,0.015],[273,0.042],[274,0.020],[275,0.010],[278,0.012],[281,0.011],[283,0.010],[285,0.004],[287,0.002],[289,0.015],[290,0.023],[291,0.012],[292,0.002],[295,0.008],[298,0.004],[300,0.002],[302,0.005],[304,0.019],[305,0.012],[306,0.002],[310,0.001],[330,0.0015],[345,0.001],[365,0.0015]];
const bodPERSIANN = [[0,0.000],[20,0.001],[40,0.001],[55,0.001],[60,0.003],[62,0.005],[64,0.002],[66,0.003],[68,0.009],[69,0.003],[71,0.002],[73,0.023],[74,0.010],[76,0.004],[78,0.003],[80,0.002],[84,0.005],[88,0.002],[92,0.004],[95,0.010],[96,0.030],[97,0.051],[98,0.020],[99,0.007],[101,0.005],[103,0.004],[104,0.007],[106,0.005],[108,0.008],[109,0.002],[111,0.004],[113,0.010],[115,0.030],[116,0.087],[117,0.003],[118,0.010],[119,0.020],[120,0.074],[121,0.030],[122,0.018],[124,0.020],[126,0.040],[127,0.030],[128,0.025],[130,0.022],[132,0.018],[134,0.012],[136,0.020],[138,0.030],[139,0.015],[141,0.030],[142,0.044],[143,0.030],[144,0.023],[146,0.025],[148,0.028],[149,0.030],[151,0.020],[153,0.008],[155,0.020],[156,0.015],[158,0.033],[159,0.015],[160,0.003],[161,0.001],[163,0.015],[165,0.028],[166,0.020],[167,0.010],[169,0.005],[171,0.025],[172,0.010],[174,0.040],[175,0.018],[177,0.025],[178,0.010],[179,0.020],[181,0.038],[182,0.020],[183,0.010],[185,0.020],[187,0.050],[188,0.071],[189,0.030],[190,0.010],[192,0.025],[194,0.030],[195,0.050],[196,0.035],[197,0.022],[199,0.022],[200,0.027],[201,0.022],[203,0.020],[205,0.030],[206,0.015],[207,0.010],[209,0.004],[212,0.001],[214,0.000],[215,0.010],[216,0.027],[217,0.025],[218,0.018],[219,0.025],[221,0.036],[222,0.030],[223,0.020],[225,0.012],[227,0.004],[228,0.003],[230,0.002],[233,0.010],[234,0.025],[235,0.041],[236,0.030],[237,0.020],[239,0.010],[240,0.020],[241,0.034],[242,0.030],[244,0.020],[245,0.012],[246,0.008],[247,0.015],[248,0.030],[249,0.039],[250,0.025],[251,0.014],[252,0.020],[253,0.038],[254,0.032],[255,0.025],[256,0.022],[258,0.020],[259,0.020],[261,0.015],[263,0.008],[265,0.002],[268,0.001],[270,0.002],[273,0.004],[275,0.008],[277,0.015],[278,0.020],[279,0.012],[281,0.002],[284,0.002],[286,0.008],[288,0.019],[289,0.010],[290,0.003],[292,0.006],[294,0.012],[295,0.008],[297,0.003],[299,0.001],[301,0.003],[303,0.001],[305,0.008],[306,0.004],[308,0.003],[310,0.008],[311,0.005],[313,0.001],[317,0.003],[318,0.001],[325,0.001],[340,0.002],[350,0.002],[358,0.001],[362,0.002],[365,0.002]];

// ---------- drawing ----------
const svg = d3.select("#chart");
svg.append("rect").attr("width", 1100).attr("height", 1675).attr("fill", "#fff");

const plotLeft = 62.4, plotRight = 1070.2, panelH = 236;
const yearStart = Date.UTC(2001, 0, 1);
const dayDate = d => new Date(yearStart + d * 864e5);
const x = d3.scaleUtc().domain([dayDate(0), dayDate(365)]).range([plotLeft, plotRight]);
const monthTicks = d3.utcMonth.range(dayDate(0), dayDate(366));
const fmt = d3.utcFormat("%b %d");

// days not listed in a rain/TSS list read as zero on the chart
const daily = events => { const m = new Map(events); return d3.range(0, 366).map(d => [d, m.has(d) ? m.get(d) : 0]); };

const panels = [
  {top: 15, label: ["Precipitation (mm/d)"], labelX: 24, domain: [0, 100], ticks: precipTicks, series: [precipGauges, precipTMPA, precipCMORPH, precipPERSIANN].map(daily)},
  {top: 294, label: "flow", labelX: 33, labelY: 430, domain: [0, 12], ticks: flowTicks, series: [flowGauges, flowTMPA, flowCMORPH, flowPERSIANN]},
  {top: 575, label: ["TSS (mg/l)"], labelX: 24, domain: [0, 120], ticks: tssTicks, series: [tssGauges, tssTMPA, tssCMORPH, tssPERSIANN].map(daily)},
  {top: 857, label: ["Temperature (\u00B0C)"], labelX: 33, domain: [0, 35], ticks: tempTicks, series: [tempGauges, tempTMPA, tempCMORPH, tempPERSIANN]},
  {top: 1140, label: ["DO (mg/l)"], labelX: 33, domain: [2, 14], ticks: doTicks, series: [doGauges, doTMPA, doCMORPH, doPERSIANN]},
  {top: 1421, label: ["BOD (mg/l)"], labelX: 19.5, domain: [0, 0.12], ticks: bodTicks, tickLabels: bodTickLabels, series: [bodGauges, bodTMPA, bodCMORPH, bodPERSIANN]}
];

const boxColor = "#a8a8a8";

panels.forEach((p, i) => {
  const bottom = p.top + panelH;
  const y = d3.scaleLinear().domain(p.domain).range([bottom, p.top]);
  const g = svg.append("g");
  const clipId = "clip" + i;
  svg.append("clipPath").attr("id", clipId).append("rect")
    .attr("x", plotLeft).attr("y", p.top).attr("width", plotRight - plotLeft).attr("height", panelH);

  // inward ticks: bottom, top, right
  const tickStyle = sel => { sel.select(".domain").remove(); sel.selectAll(".tick line").attr("stroke", boxColor); };
  g.append("g").attr("transform", `translate(0,${bottom})`)
    .call(d3.axisTop(x).tickValues(monthTicks).tickSize(9).tickFormat("")).call(tickStyle);
  g.append("g").attr("transform", `translate(0,${p.top})`)
    .call(d3.axisBottom(x).tickValues(monthTicks).tickSize(9).tickFormat("")).call(tickStyle);
  g.append("g").attr("transform", `translate(${plotRight},0)`)
    .call(d3.axisLeft(y).tickValues(p.ticks).tickSize(9).tickFormat("")).call(tickStyle);

  // tick labels
  const xl = g.append("g").attr("transform", `translate(0,${bottom})`)
    .call(d3.axisBottom(x).tickValues(monthTicks).tickSize(0).tickPadding(8).tickFormat(fmt));
  xl.select(".domain").remove();
  xl.selectAll("text").attr("font-size", 15).attr("font-family", "Liberation Sans, Arial, sans-serif").attr("fill", "#000");
  const labels = p.tickLabels;
  const yl = g.append("g").attr("transform", `translate(${plotLeft},0)`)
    .call(d3.axisLeft(y).tickValues(p.ticks).tickSize(0).tickPadding(4.5)
      .tickFormat((d, k) => labels ? labels[k] : d3.format("d")(d)));
  yl.select(".domain").remove();
  yl.selectAll("text").attr("font-size", 15).attr("font-family", "Liberation Sans, Arial, sans-serif").attr("fill", "#000");

  // series lines: colored first, gauges on top
  const line = d3.line().x(d => x(dayDate(d[0]))).y(d => y(d[1])).curve(d3.curveLinear);
  const lg = svg.append("g").attr("clip-path", `url(#${clipId})`);
  [1, 2, 3, 0].forEach(s => {
    lg.append("path").datum(p.series[s])
      .attr("d", line).attr("fill", "none")
      .attr("stroke", seriesColors[s])
      .attr("stroke-width", s === 0 ? 3 : 1.3)
      .attr("stroke-linejoin", "round").attr("stroke-linecap", "round");
  });

  // box
  svg.append("rect").attr("x", plotLeft).attr("y", p.top)
    .attr("width", plotRight - plotLeft).attr("height", panelH)
    .attr("fill", "none").attr("stroke", boxColor).attr("stroke-width", 1);

  // y label
  const cy = p.labelY || (p.top + panelH / 2);
  const t = svg.append("text").attr("transform", `translate(${p.labelX},${cy}) rotate(-90)`)
    .attr("text-anchor", "middle").attr("font-size", 16);
  if (p.label === "flow") {
    t.append("tspan").text("Streamflow (m");
    t.append("tspan").attr("dy", -6).attr("font-size", 11).text("3");
    t.append("tspan").attr("dy", 6).text("/s)");
  } else {
    t.text(p.label[0]);
  }
});

// legend in the precipitation panel
const leg = svg.append("g");
leg.append("rect").attr("x", 935).attr("y", 21).attr("width", 124).attr("height", 82)
  .attr("fill", "#fff").attr("stroke", "#9a9a9a").attr("stroke-width", 1);
const legRowY = [33.3, 52.9, 72.7, 92.5];
seriesNames.forEach((n, i) => {
  leg.append("line").attr("x1", 939).attr("x2", 962).attr("y1", legRowY[i]).attr("y2", legRowY[i])
    .attr("stroke", seriesColors[i]).attr("stroke-width", i === 0 ? 3 : 1.3);
  leg.append("text").attr("x", 966.5).attr("y", legRowY[i]).attr("dy", "0.36em")
    .attr("font-size", 17).text(n);
});
</script>
</body></html>
